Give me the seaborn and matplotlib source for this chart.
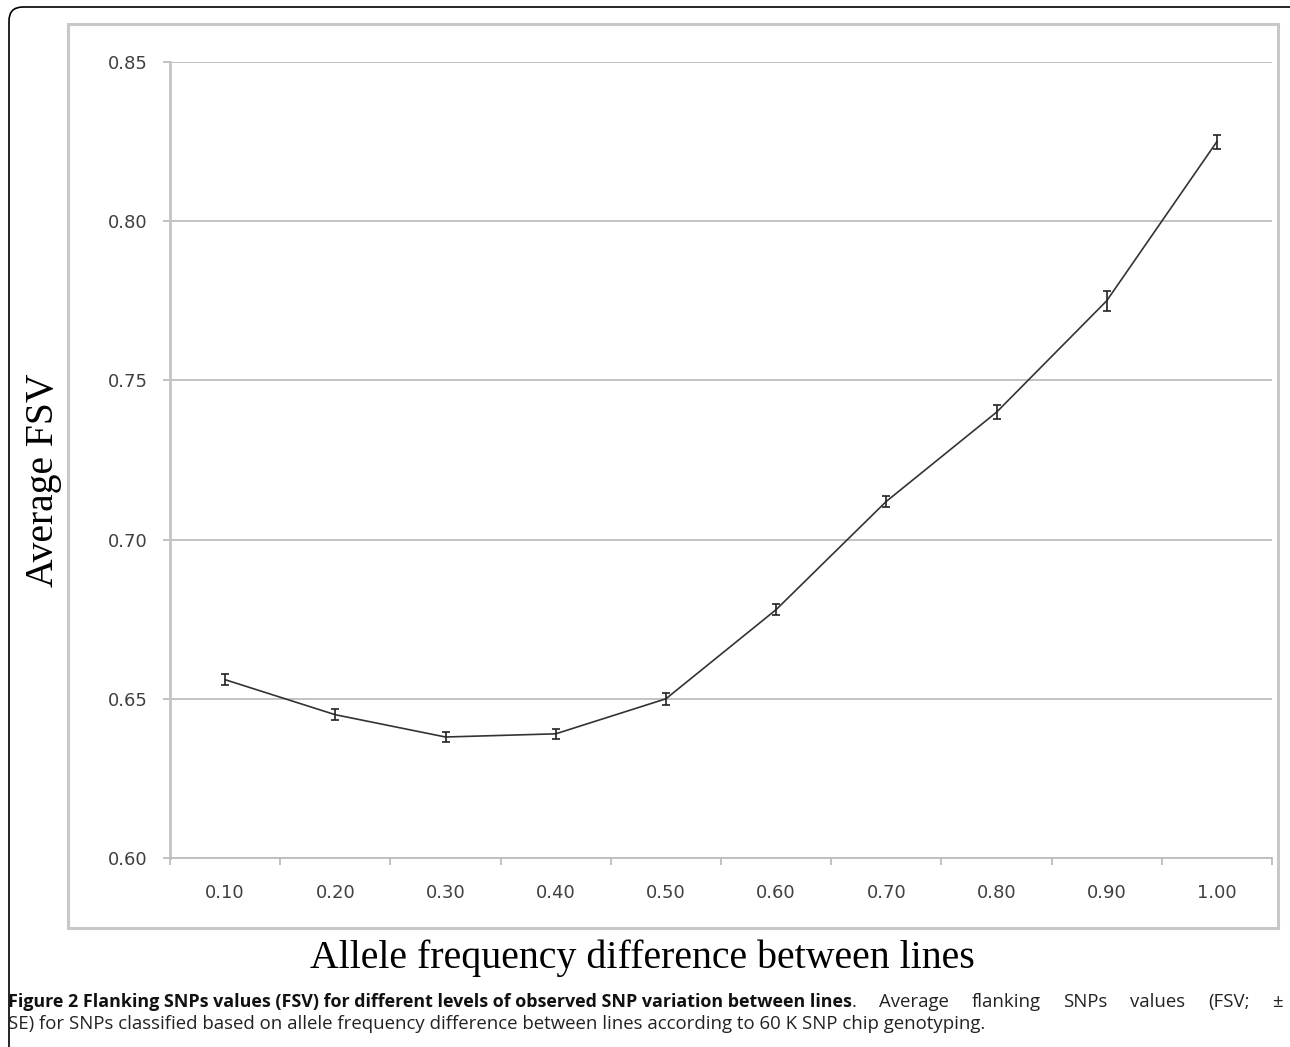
import numpy as np
import pandas as pd
import matplotlib
matplotlib.use("Agg")
import matplotlib.pyplot as plt
import seaborn as sns
from matplotlib.patches import Rectangle, FancyBboxPatch

# ---- data ----
categories = ["0.10", "0.20", "0.30", "0.40", "0.50", "0.60", "0.70", "0.80", "0.90", "1.00"]
fsv_mean = [0.656, 0.645, 0.638, 0.639, 0.650, 0.678, 0.712, 0.740, 0.775, 0.825]
fsv_se = [0.0018, 0.0018, 0.0015, 0.0015, 0.0018, 0.0018, 0.0018, 0.0022, 0.0032, 0.0022]
y_ticks = [0.60, 0.65, 0.70, 0.75, 0.80, 0.85]
y_tick_labels = ["0.60", "0.65", "0.70", "0.75", "0.80", "0.85"]

x_label = "Allele frequency difference between lines"
y_label = "Average FSV"
caption_bold = "Figure 2 Flanking SNPs values (FSV) for different levels of observed SNP variation between lines"
caption_rest1 = ". Average flanking SNPs values (FSV; \u00b1"
caption_line2 = "SE) for SNPs classified based on allele frequency difference between lines according to 60 K SNP chip genotyping."

sns.set_theme(style="white")
plt.rcParams["font.family"] = ["DejaVu Sans"]

W, H = 1290, 1047
fig = plt.figure(figsize=(W / 100, H / 100), dpi=100)
fig.patch.set_facecolor("white")

# outer black frame (top and left visible, rounded corner)
outer = FancyBboxPatch((9, -60), W + 40, H - 7 + 60, boxstyle="round,pad=0,rounding_size=14",
                       transform=None, fill=False, edgecolor="black", lw=1.2)
fig.add_artist(outer)

# inner gray chart frame
fig.add_artist(Rectangle((68 / W, 1 - 928 / H), (1278 - 68) / W, (928 - 24) / H,
                         transform=fig.transFigure, fill=False, edgecolor="#c8c8c8", lw=2.2))

ax = fig.add_axes([170 / W, 1 - 858 / H, (1272 - 170) / W, (858 - 62) / H])

df = pd.DataFrame({"diff": categories, "fsv": fsv_mean, "se": fsv_se})
sns.lineplot(data=df, x="diff", y="fsv", ax=ax, color="#333333", lw=1.2, sort=False)
ax.errorbar(df["diff"], df["fsv"], yerr=df["se"], fmt="none", ecolor="#222222",
            elinewidth=1.2, capsize=3, capthick=1.2, zorder=3)

ax.set_xlim(-0.5, len(categories) - 0.5)
ax.set_ylim(0.60, 0.85)
ax.set_yticks(y_ticks)
ax.set_yticklabels(y_tick_labels)
ax.set_xticks(range(len(categories)))
ax.set_xticklabels(categories)
ax.set_xticks(np.arange(-0.5, len(categories), 1.0), minor=True)

ax.grid(axis="y", color="#bdbdbd", lw=1.3)
ax.grid(axis="x", visible=False)
ax.set_axisbelow(True)
for s in ["top", "right"]:
    ax.spines[s].set_visible(False)
ax.spines["left"].set_color("#c4c4c4")
ax.spines["left"].set_linewidth(2.0)
ax.spines["bottom"].set_color("#bdbdbd")
ax.spines["bottom"].set_linewidth(1.3)

ax.tick_params(axis="y", which="major", length=5, width=1.3, color="#bdbdbd",
               pad=11, labelsize=13, labelcolor="#404040", left=True)
ax.tick_params(axis="x", which="major", length=0, pad=19, labelsize=13, labelcolor="#404040")
ax.tick_params(axis="x", which="minor", length=5, width=1.3, color="#bdbdbd", bottom=True)
ax.set_xlabel("")
ax.set_ylabel("")

serif = ["Liberation Serif", "DejaVu Serif"]
fig.text(642 / W, 1 - 958 / H, x_label, family=serif, fontsize=28.7, ha="center", va="center",
         color="black")
fig.text(44 / W, 1 - 480 / H, y_label, family=serif, fontsize=28.5, ha="center", va="center",
         rotation=90, color="black")

# ---- caption: bold lead, then regular words justified to the right margin ----
cap_font = ["Open Sans", "DejaVu Sans"]
bold_size, reg_size = 12.9, 13.4
renderer = fig.canvas.get_renderer()
x0, x1 = 8, 1283
base1 = H - 1007

tb = fig.text(x0, base1, caption_bold, transform=None, family=cap_font, fontsize=bold_size,
              fontweight="bold", ha="left", va="baseline", color="#111111")
xb = x0 + tb.get_window_extent(renderer).width

rest_words = caption_rest1.split(" ")
arts = []
for i, w in enumerate(rest_words):
    t = fig.text(0, base1, w, transform=None, family=cap_font, fontsize=reg_size,
                 ha="left", va="baseline", color="#222222")
    arts.append((t, i > 0, t.get_window_extent(renderer).width))
n_gaps = len(arts) - 1
gap = (x1 - xb - sum(w for _, _, w in arts)) / n_gaps
xpos = xb
for t, sp, w in arts:
    if sp:
        xpos += gap
    t.set_x(xpos)
    xpos += w

fig.text(x0, H - 1029, caption_line2, transform=None, family=cap_font, fontsize=reg_size,
         ha="left", va="baseline", color="#222222")

fig.savefig("out.png", dpi=100)
